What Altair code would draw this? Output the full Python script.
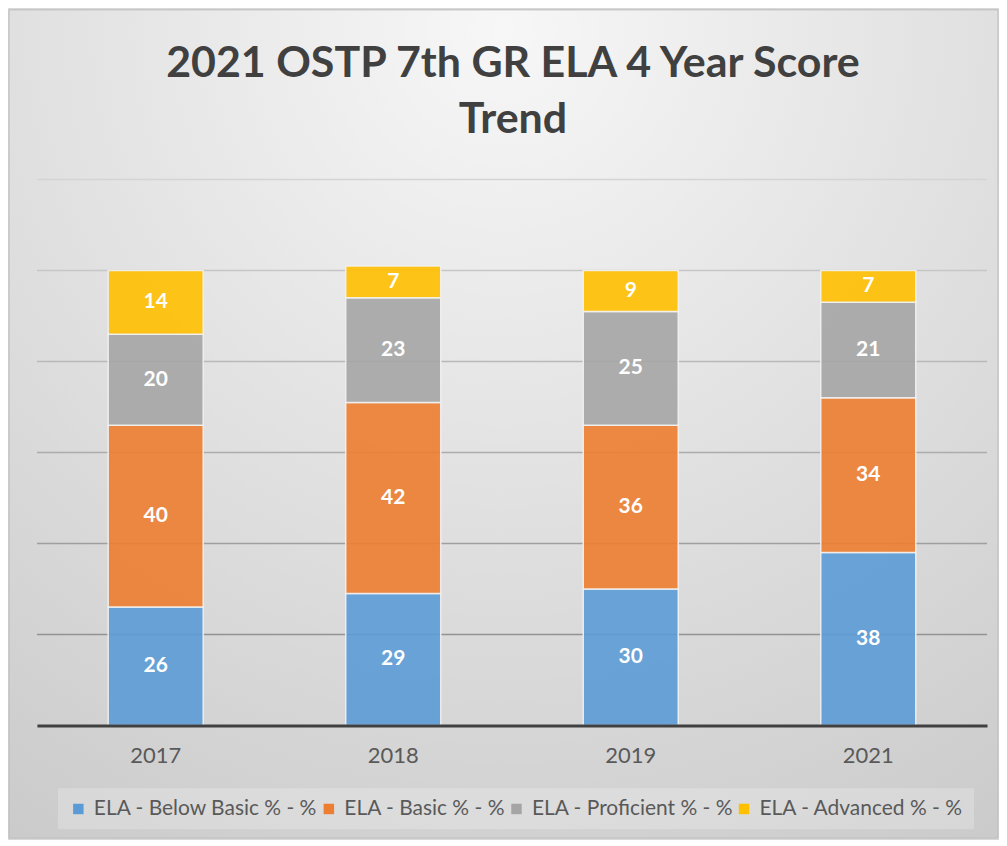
import altair as alt
import pandas as pd

years = ["2017", "2018", "2019", "2021"]
series = ["ELA - Below Basic % - %", "ELA - Basic % - %", "ELA - Proficient % - %", "ELA - Advanced % - %"]
below_basic = [26, 29, 30, 38]
basic = [40, 42, 36, 34]
proficient = [20, 23, 25, 21]
advanced = [14, 7, 9, 7]
grid_values = [20, 40, 60, 80, 100, 120]
title_lines = ["2021 OSTP 7th GR ELA 4 Year Score", "Trend"]
colors = ["#5b9bd5", "#ed7d31", "#a5a5a5", "#ffc000"]

rows = []
for si, (name, vals) in enumerate(zip(series, [below_basic, basic, proficient, advanced])):
    for y, v in zip(years, vals):
        rows.append({"year": y, "series": name, "value": v, "order": si})
df = pd.DataFrame(rows)

W, H = 952, 547
FONT = "Lato"
yscale = alt.Scale(domain=[0, 120], nice=False)

bg = alt.Chart(pd.DataFrame({"a": [0]})).mark_rect(
    fill=alt.RadialGradient(
        gradient="radial", x1=0.5, y1=0.1, r1=0, x2=0.5, y2=0.1, r2=0.95,
        stops=[alt.GradientStop(offset=0, color="#f7f7f7"), alt.GradientStop(offset=1, color="#cbcbcb")],
    ),
    stroke="#bdbdbd", strokeWidth=1,
).encode(
    x=alt.value(-28), x2=alt.value(963), y=alt.value(-170), y2=alt.value(660)
)

title = alt.Chart(pd.DataFrame({"a": [0]})).mark_text(
    text=title_lines, font=FONT, fontSize=43, fontWeight="bold", color="#404040",
    align="center", baseline="alphabetic", lineHeight=56,
).encode(x=alt.value(W / 2 + 1), y=alt.value(-103))

grid = alt.Chart(pd.DataFrame({"v": grid_values})).mark_rule(strokeWidth=1.5).encode(
    y=alt.Y("v:Q", scale=yscale, title=None),
    x=alt.value(0), x2=alt.value(W),
    stroke=alt.Stroke("v:Q", scale=alt.Scale(domain=[0, 120], range=["#858585", "#d4d4d4"]), legend=None),
)

base = alt.Chart(df)

bars = base.mark_bar(stroke="#f2f2f2", strokeWidth=1.5, strokeOpacity=0.9, fillOpacity=0.9).encode(
    x=alt.X("year:N", sort=years, title=None,
            scale=alt.Scale(paddingInner=0.6, paddingOuter=0.3),
            axis=alt.Axis(labelAngle=0, labelFont=FONT, labelFontSize=22, labelColor="#595959",
                          labelPadding=20, domainColor="#404040", domainWidth=3, ticks=False,
                          grid=False, zindex=1)),
    y=alt.Y("value:Q", stack="zero", title=None, scale=yscale,
            axis=alt.Axis(labels=False, ticks=False, domain=False, grid=False)),
    color=alt.Color("series:N", sort=series, scale=alt.Scale(domain=series, range=colors),
                    legend=alt.Legend(orient="none", legendX=21, legendY=610,
                                      direction="horizontal", title=None,
                                      symbolType="square", symbolSize=110, symbolStrokeWidth=0,
                                      labelFont=FONT, labelFontSize=21, labelColor="#595959",
                                      labelLimit=0, labelOffset=5, columnPadding=0,
                                      fillColor="rgba(255,255,255,0.22)", padding=10)),
    order=alt.Order("order:Q"),
)

labels = base.transform_window(
    cum="sum(value)", sort=[alt.SortField("order")], groupby=["year"], frame=[None, 0]
).transform_calculate(
    mid="datum.cum - datum.value / 2"
).mark_text(color="white", fontWeight="bold", font=FONT, fontSize=21).encode(
    x=alt.X("year:N", sort=years),
    y=alt.Y("mid:Q", scale=yscale),
    text=alt.Text("value:Q"),
)

chart = alt.layer(bg, title, grid, bars, labels).properties(
    width=W, height=H,
    padding=0,
).configure_view(stroke=None).configure(background="#d9d9d9")

chart.save("out.html", embed_options={"renderer": "svg", "actions": False})
